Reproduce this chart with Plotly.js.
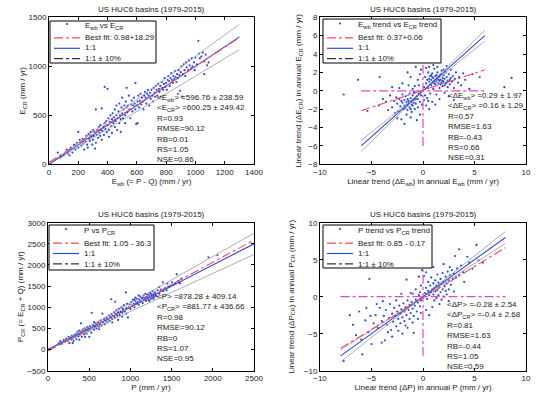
<!DOCTYPE html>
<html><head><meta charset="utf-8">
<script src="https://cdn.plot.ly/plotly-3.0.1.min.js"></script>
<style>html,body{margin:0;padding:0;background:#fff}#chart{width:550px;height:395px}</style>
</head><body><div id="chart"></div>
<script>
// ---------- Panel 1: E_wb vs E_CR (mm/yr) ----------
const p1x = [60,80,100,120,130,140,150,160,170,180,190,200,200,210,220,230,235,240,250,255,260,265,270,275,280,285,290,295,300,300,305,310,315,320,320,325,330,335,340,345,350,350,355,360,360,365,370,375,380,380,385,390,395,400,400,405,410,410,415,420,425,430,430,435,440,445,450,450,455,460,460,465,470,475,480,480,485,490,490,495,500,500,505,510,515,520,520,525,530,530,535,540,545,550,555,560,565,570,575,580,585,590,590,595,600,605,605,610,615,620,625,630,635,640,645,650,655,660,665,670,675,680,685,690,695,700,705,710,715,720,725,730,735,740,745,750,755,760,765,770,775,780,785,790,795,800,805,810,815,820,825,830,835,840,845,850,855,860,865,870,875,880,880,885,890,895,900,905,910,915,920,925,930,935,940,950,955,960,970,975,980,990,995,1000,1010,1020,1025,1030,1040,1050,1060,1070,1080,1090,1060];
const p1y = [120,70,90,150,110,90,170,120,200,150,220,170,330,250,190,260,210,150,230,290,200,170,310,260,240,330,280,200,350,250,290,330,160,220,560,300,350,270,380,320,290,400,350,250,570,340,380,300,420,790,360,440,330,770,400,470,350,280,430,500,390,460,320,520,420,480,380,560,440,600,500,350,470,540,420,620,500,460,330,580,520,680,470,560,600,500,420,640,580,780,530,600,700,560,470,610,650,540,600,680,620,560,830,410,600,420,640,700,580,650,720,610,680,640,560,700,740,680,620,720,760,700,600,730,670,760,700,640,780,730,690,800,760,700,820,770,740,800,690,840,780,760,820,880,790,830,760,860,900,850,800,880,930,860,830,900,870,950,890,840,920,880,720,960,910,750,940,1000,690,920,1020,960,900,1040,990,960,1060,1010,980,1080,1000,1040,960,1090,1020,1260,1130,1080,1100,1140,1050,1120,1010,1040,920];

// ---------- Panel 2: trend of E_wb vs trend of E_CR (mm/yr) ----------
const p2x = [0.2,0.3,0.4,0.5,0.5,0.6,0.7,0.7,0.8,0.8,0.9,0.9,1.0,1.0,1.1,1.1,1.2,1.2,1.3,1.3,1.4,1.4,1.5,1.5,1.6,1.6,1.7,1.7,1.8,1.8,1.9,1.9,2.0,2.0,2.1,2.1,2.2,2.2,2.3,2.4,2.4,2.5,2.6,2.6,2.7,2.8,2.9,3.0,3.1,3.2,3.4,3.5,3.7,3.9,4.1,4.5,4.8,5.5,7.9,8.6,0.1,0.2,0.3,0.1,0.4,0.6,1.0,1.4,0.9,1.6,2.5,3.0,2.3,-0.3,-0.5,-0.8,-1.2,-0.4,-1.5,-2.0,-0.2,-1.0,-4.2,-6.3,-7.7,-3.0,-0.7,-0.2,-0.3,-0.4,-0.5,-0.5,-0.6,-0.7,-0.8,-0.8,-0.9,-1.0,-1.0,-1.1,-1.1,-1.2,-1.3,-1.3,-1.4,-1.5,-1.5,-1.6,-1.6,-1.7,-1.8,-1.8,-1.9,-2.0,-2.0,-2.1,-2.2,-2.3,-2.4,-2.5,-2.6,-2.7,-2.8,-3.0,-3.2,-3.4,-3.6,-3.9,-4.3,-1.8,-2.5,-0.3,-0.6,-1.2,-5.4,-0.1,-0.9,0.3,0.6,0.5,1.2,-2.3,-1.4,0.6,0.9,1.1,1.3,1.5,1.7,1.9,2.0,2.3,2.7,1.2,0.8,1.6,2.1,1.0,-1.1,-1.4,-1.7,-0.9,-1.5,-2.1,-1.2,-0.7];
const p2y = [1.5,0.8,1.2,2.0,0.3,1.0,1.6,-0.3,1.2,0.6,1.9,0.9,1.4,0.2,1.1,2.4,0.7,1.6,1.0,-0.4,1.3,2.0,0.8,1.5,1.1,0.3,1.8,1.2,0.9,2.2,1.4,0.5,1.0,1.7,1.3,-0.2,0.8,2.0,1.5,1.1,0.4,1.8,1.2,0.7,2.3,1.0,1.6,0.3,1.3,2.0,0.9,1.5,0.6,1.9,1.2,0.2,1.8,1.5,0.4,1.4,0.4,-0.5,2.5,-1.0,-0.8,2.6,2.8,2.6,-1.2,-0.9,-0.6,-1.0,2.7,1.8,1.2,0.5,1.5,0.6,2.0,0.8,2.3,0.2,1.5,1.2,-0.4,0.4,2.6,-0.5,-1.2,-0.3,-0.9,-1.8,-0.6,-1.4,-0.2,-2.0,-1.0,-1.6,-0.5,-2.3,-1.2,-0.8,-1.8,-0.3,-1.4,-2.1,-0.9,-1.2,-2.6,-0.6,-1.6,-1.0,-2.0,-1.3,-0.4,-3.1,-1.7,-0.9,-2.2,-1.4,-0.7,-2.4,-1.1,-1.8,-0.5,-2.1,-1.2,-0.9,-1.6,-3.6,-3.0,-2.6,-3.2,-2.9,-2.2,-1.5,-0.1,-1.6,-2.0,-1.1,-1.5,0.3,0.6,1.3,1.5,0.8,1.7,1.2,0.7,1.1,2.3,0.9,1.4,1.2,1.7,1.6,0.6,1.0,-1.5,-1.1,-1.9,-1.3,-1.6,-1.1,-2.0,-0.9];

// ---------- Panel 3: P vs P_CR (mm/yr) ----------
const p3x = [130,150,170,190,200,220,240,250,260,270,280,290,300,310,320,330,340,345,350,360,370,375,380,390,400,400,410,420,425,430,440,445,450,460,470,475,480,490,500,500,510,520,525,530,540,550,560,570,580,590,600,610,620,630,640,650,660,670,680,690,700,710,720,730,740,750,760,767,770,780,790,800,810,816,820,830,840,850,860,870,880,890,900,910,920,930,945,950,960,970,980,990,1000,1010,1020,1030,1040,1050,1060,1070,1080,1090,1100,1110,1120,1130,1140,1150,1160,1170,1180,1190,1200,1210,1220,1230,1240,1250,1260,1270,1280,1290,1300,1310,1330,1350,1370,1393,1400,1420,1440,1460,1480,1507,1520,1540,1563,1580,1600,1620,1947,2056,850,900,780,950,620,560,450,300,380,1050,1100,1180,1230,1270,1350,1450,1060,1200,1250,1220,1150,1280,1320];
const p3y = [150,200,140,230,180,260,210,300,150,280,240,330,260,200,350,300,380,250,330,420,310,370,450,350,410,620,300,470,380,430,360,500,420,470,380,530,440,500,300,450,560,480,400,870,520,580,470,540,620,500,560,650,540,600,690,570,850,640,720,600,680,750,640,710,800,680,760,1190,830,720,800,880,760,1130,850,930,800,880,960,820,900,1000,870,960,1050,900,1350,980,1080,760,1000,1070,960,1120,1040,1180,1080,1000,1150,1090,1200,1120,1060,1180,1250,1140,1210,1100,1280,1190,1230,1150,1300,1220,1180,1260,1340,1200,1280,1230,1310,1250,1350,1280,1400,1320,1420,1590,1380,1450,1400,1480,1500,1590,1530,1560,1780,1620,1570,1680,2180,2235,700,780,640,850,480,650,300,150,230,1180,1280,1320,1150,1380,1480,1560,1230,1240,1320,1300,1220,1200,1260];

// ---------- Panel 4: trend of P vs trend of P_CR (mm/yr) ----------
const p4x = [0.2,0.3,0.4,0.5,0.5,0.6,0.7,0.8,0.8,0.9,1.0,1.0,1.1,1.1,1.2,1.2,1.3,1.4,1.4,1.5,1.5,1.6,1.7,1.7,1.8,1.9,1.9,2.0,2.0,2.1,2.2,2.2,2.3,2.4,2.5,2.5,2.6,2.7,2.8,2.9,3.0,3.0,3.2,3.3,3.5,3.5,3.7,3.9,4.0,4.3,4.5,4.8,5.2,5.4,5.8,0.1,0.3,-0.5,-0.4,-1.6,-5.2,-0.2,-0.7,-1.0,-0.3,1.6,2.5,0.9,-0.1,1.0,2.0,2.6,3.1,1.3,2.3,1.8,-0.2,-0.3,-0.4,-0.5,-0.6,-0.7,-0.8,-0.9,-0.9,-1.0,-1.1,-1.2,-1.3,-1.3,-1.4,-1.5,-1.6,-1.7,-1.8,-1.8,-1.9,-2.0,-2.1,-2.2,-2.2,-2.3,-2.4,-2.5,-2.6,-2.7,-2.8,-2.9,-3.0,-3.1,-3.2,-3.3,-3.5,-3.6,-3.7,-3.8,-4.0,-4.0,-4.2,-4.4,-4.6,-4.8,-5.1,-5.3,-5.6,-5.9,-6.2,-6.5,-7.1,-7.7,-6.0,-5.0,-3.4,-1.5,-0.5,-0.2,-2.0,-1.0,0.3,0.6,-0.1,-2.6,-3.9,-1.2,-2.1,-4.5,-1.7,-2.4,-3.0,-6.8,-5.5];
const p4y = [0.5,1.2,-0.3,0.8,2.0,0.2,1.5,0.6,2.6,1.0,0.3,1.8,1.2,-0.5,0.7,2.2,1.5,0.9,3.0,1.9,0.2,1.3,2.4,0.6,1.7,1.0,3.2,2.0,0.0,1.4,2.7,0.8,1.8,3.4,2.2,1.0,2.9,1.6,3.6,2.4,3.1,0.7,2.6,3.8,6.4,2.9,4.2,3.3,2.0,5.4,4.6,3.8,7.0,4.9,4.6,2.8,3.3,4.4,2.7,2.3,2.4,1.5,1.0,0.4,0.6,-1.0,-0.6,-1.4,3.6,4.0,4.4,4.0,5.5,-0.2,0.3,-0.4,-0.5,-1.3,0.2,-0.8,-2.0,-0.4,-1.2,-2.6,-4.9,-1.6,-0.7,-2.2,-1.1,-3.0,-1.8,-0.5,-2.5,-1.4,-3.3,-2.0,-0.9,-2.8,-1.7,-3.6,-2.3,-1.2,-3.0,-2.0,-4.0,-2.6,-1.5,-3.4,-2.3,-4.5,-1.0,-2.9,-3.8,-1.8,-5.9,-2.6,-6.2,-3.3,-1.5,-4.2,-2.5,-3.6,-2.6,-4.8,-3.2,-7.8,-2.0,-5.2,-2.5,-8.7,-5.8,-6.4,-4.8,-4.2,-3.0,-2.2,-5.0,-3.5,-1.8,-2.5,-0.2,-0.5,-0.6,0.5,0.4,-1.0,-3.9,-4.6,-5.4,-3.8,-1.5];

// ---------- Reference-line parameters, labels, statistics ----------
const fitSlope = [0.98, 0.37, 1.05, 0.85];
const fitIntercept = [18.29, 0.06, -36.3, -0.17];
const lineSpan = [[0,1300],[-6,6],[0,2500],[-8,8]];
const crossSpan = [null,[-6,6],null,[-8,8]];
const xRanges = [[0,1400],[-10,10],[0,2500],[-10,10]];
const yRanges = [[0,1500],[-8,8],[-500,3000],[-10,10]];
const xDticks = [200,5,500,5];
const yDticks = [500,2,500,5];
const panelTitle = 'US HUC6 basins (1979-2015)';
const xTitles = ['E<sub>wb</sub> (= P - Q) (mm / yr)',
  'Linear trend (ΔE<sub>wb</sub>) in annual E<sub>wb</sub> (mm / yr)',
  'P (mm / yr)',
  'Linear trend (ΔP) in annual P (mm / yr)'];
const yTitles = ['E<sub>CR</sub> (mm / yr)',
  'Linear trend (ΔE<sub>CR</sub>) in annual E<sub>CR</sub> (mm / yr)',
  'P<sub>CR</sub> (= E<sub>CR</sub> + Q) (mm / yr)',
  'Linear trend (ΔP<sub>CR</sub>) in annual P<sub>CR</sub> (mm / yr)'];
const scatterNames = ['E<sub>wb</sub> vs E<sub>CR</sub>',
  'E<sub>wb</sub> trend vs E<sub>CR</sub> trend',
  'P vs P<sub>CR</sub>',
  'P trend vs P<sub>CR</sub> trend'];
const fitNames = ['Best fit: 0.98+18.29','Best fit: 0.37+0.06','Best fit: 1.05 - 36.3','Best fit: 0.85 - 0.17'];
const stats = [
  ['&lt;E<sub>wb</sub>&gt; =596.76 ± 238.59','&lt;E<sub>CR</sub>&gt; =600.25 ± 249.42','R=0.93','RMSE=90.12','RB=0.01','RS=1.05','NSE=0.86'],
  ['&lt;ΔE<sub>wb</sub>&gt; =0.29 ± 1.97','&lt;ΔE<sub>CR</sub>&gt; =0.16 ± 1.29','R=0.57','RMSE=1.63','RB=-0.43','RS=0.66','NSE=0.31'],
  ['&lt;P&gt; =878.28 ± 409.14','&lt;P<sub>CR</sub>&gt; =881.77 ± 436.66','R=0.98','RMSE=90.12','RB=0','RS=1.07','NSE=0.95'],
  ['&lt;ΔP&gt; =-0.28 ± 2.54','&lt;ΔP<sub>CR</sub>&gt; =-0.4 ± 2.68','R=0.81','RMSE=1.63','RB=-0.44','RS=1.05','NSE=0.59']
];

// ---------- layout geometry (pixels) ----------
const W = 550, H = 395;
const px = v => v / W, py = v => 1 - v / H;
const boxes = [[49,254,17.3,164.3],[320,526,17.3,164.3],[48,254,222.7,370.7],[320,526,222.7,370.7]];
const titleY = [9,9,214,214];
const statX = [155,446,155,445];
const statMidY = [128.5,126.5,327.5,335];
const legBox = [[50,156,21,63],[323,441,19,63],[49,154,225,270],[323,432,225,268]];
const legRow1 = [25.5,25,230.5,230.5];
const legRestMid = [48.3,48.3,253.5,253.5];
const xStandoff = [2,2,2,2];
const yStandoff = [1,5,2,8];

const FONT = 'Liberation Sans, Arial, Helvetica, sans-serif';
const TXT = '#222';
const BLUE = 'rgb(45,75,210)', RED = 'rgb(255,70,95)', GRAY = 'rgb(165,165,165)', MAG = 'rgb(230,70,190)';
const pts = [[p1x,p1y],[p2x,p2y],[p3x,p3y],[p4x,p4y]];
const fnt = s => ({family:FONT, size:s, color:TXT});

const data = [], shapes = [], annotations = [];
const layout = {width:W, height:H, margin:{l:0,r:0,t:0,b:0}, paper_bgcolor:'#fff', plot_bgcolor:'#fff',
  showlegend:false, font:fnt(8)};

for (let i = 0; i < 4; i++) {
  const n = i === 0 ? '' : String(i + 1);
  const xa = 'x' + n, ya = 'y' + n;
  const b = boxes[i];
  const axCommon = {showgrid:false, zeroline:false, showline:true, linecolor:'#000', linewidth:1,
    mirror:'ticks', ticks:'inside', ticklen:3, tickcolor:'#000', tickwidth:1,
    tickfont:fnt(8), automargin:false, fixedrange:true};
  layout['xaxis' + n] = Object.assign({}, axCommon, {domain:[px(b[0]), px(b[1])], range:xRanges[i],
    dtick:xDticks[i], tick0:0, anchor:ya,
    title:{text:xTitles[i], font:fnt(8), standoff:xStandoff[i]}});
  layout['yaxis' + n] = Object.assign({}, axCommon, {domain:[py(b[3]), py(b[2])], range:yRanges[i],
    dtick:yDticks[i], tick0:0, anchor:xa,
    title:{text:yTitles[i], font:fnt(8), standoff:yStandoff[i]}});

  // scatter points
  data.push({type:'scatter', mode:'markers', x:pts[i][0], y:pts[i][1], xaxis:xa, yaxis:ya,
    name:scatterNames[i], marker:{size:2.2, color:BLUE, line:{width:0}}, hoverinfo:'skip'});
  // reference lines
  const s = lineSpan[i];
  [1.1, 0.9].forEach(k => data.push({type:'scatter', mode:'lines', x:s, y:s.map(v => k * v),
    xaxis:xa, yaxis:ya, name:'1:1 ± 10%', line:{color:GRAY, width:0.9}, hoverinfo:'skip'}));
  data.push({type:'scatter', mode:'lines', x:s, y:s, xaxis:xa, yaxis:ya, name:'1:1',
    line:{color:BLUE, width:1.1}, hoverinfo:'skip'});
  data.push({type:'scatter', mode:'lines', x:s, y:s.map(v => fitSlope[i] * v + fitIntercept[i]),
    xaxis:xa, yaxis:ya, name:fitNames[i], line:{color:RED, width:1.1, dash:'dashdot'}, hoverinfo:'skip'});
  if (crossSpan[i]) {
    const c = crossSpan[i];
    data.push({type:'scatter', mode:'lines', x:[c[0], c[1], null, 0, 0], y:[0, 0, null, c[0], c[1]],
      xaxis:xa, yaxis:ya, name:'zero', line:{color:MAG, width:1.2, dash:'dashdot'}, hoverinfo:'skip'});
  }

  // panel title
  annotations.push({xref:'paper', yref:'paper', x:px((b[0] + b[1]) / 2), y:py(titleY[i]),
    xanchor:'center', yanchor:'middle', showarrow:false, text:panelTitle, font:fnt(8)});
  // statistics block
  annotations.push({xref:'paper', yref:'paper', x:px(statX[i]), y:py(statMidY[i]),
    xanchor:'left', yanchor:'middle', align:'left', showarrow:false, text:stats[i].join('<br>'), font:fnt(8)});

  // legend box (drawn manually, compact like the original)
  const L = legBox[i];
  const lx0 = L[0] + 4, lx1 = L[0] + 30, tx = L[0] + 33;
  shapes.push({type:'rect', xref:'paper', yref:'paper', x0:px(L[0]), x1:px(L[1]), y0:py(L[3]), y1:py(L[2]),
    fillcolor:'#fff', line:{color:'#000', width:1}, layer:'above'});
  const mx = (lx0 + lx1) / 2, my = legRow1[i] - 1.5;
  shapes.push({type:'circle', xref:'paper', yref:'paper', x0:px(mx - 1.1), x1:px(mx + 1.1),
    y0:py(my + 1.1), y1:py(my - 1.1), fillcolor:BLUE, line:{width:0}, layer:'above'});
  const LS = 10.4;
  const sampleStyles = [{color:RED, width:1.1, dash:'dashdot'}, {color:BLUE, width:1.2, dash:'solid'},
    {color:'#000', width:1, dash:'dashdot'}];
  sampleStyles.forEach((st, k) => {
    const yy = legRestMid[i] + (k - 1) * LS;
    shapes.push({type:'line', xref:'paper', yref:'paper', x0:px(lx0), x1:px(lx1), y0:py(yy), y1:py(yy), line:st, layer:'above'});
  });
  annotations.push({xref:'paper', yref:'paper', x:px(tx), y:py(legRow1[i]),
    xanchor:'left', yanchor:'middle', showarrow:false, text:scatterNames[i], font:fnt(8)});
  annotations.push({xref:'paper', yref:'paper', x:px(tx), y:py(legRestMid[i]),
    xanchor:'left', yanchor:'middle', align:'left', showarrow:false,
    text:[fitNames[i], '1:1', '1:1 ± 10%'].join('<br>'), font:fnt(8)});
}
layout.shapes = shapes;
layout.annotations = annotations;
Plotly.newPlot('chart', data, layout, {displayModeBar:false, staticPlot:true});
</script></body></html>
